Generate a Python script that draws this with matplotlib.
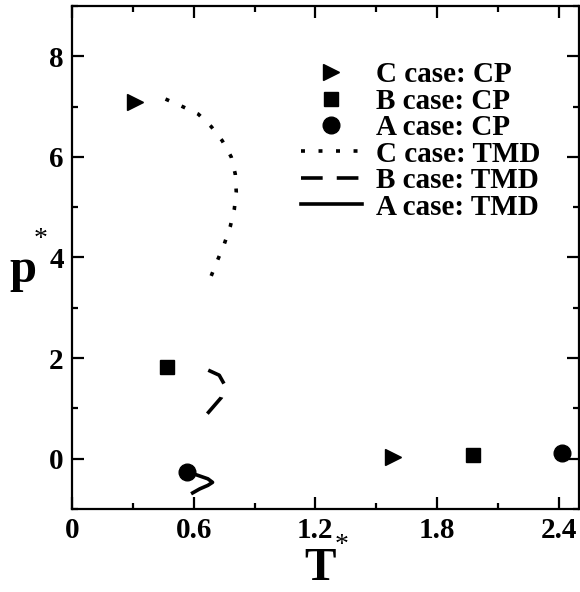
import matplotlib
matplotlib.use("Agg")
import matplotlib.pyplot as plt
from matplotlib.ticker import MultipleLocator

plt.rcParams['font.family'] = ['Liberation Serif', 'DejaVu Serif']
plt.rcParams['font.weight'] = 'bold'

# critical points (T*, p*) for the three cases, low-T and high-T branches
cp_c = ([0.31, 1.585], [7.09, 0.04])
cp_b = ([0.468, 1.976], [1.83, 0.07])
cp_a = ([0.568, 2.416], [-0.26, 0.11])

# temperature of maximum density lines
tmd_c_T = [0.461, 0.540, 0.623, 0.687, 0.741, 0.785, 0.805, 0.810, 0.800, 0.780, 0.751, 0.716, 0.682]
tmd_c_p = [7.15, 7.01, 6.85, 6.60, 6.32, 6.00, 5.66, 5.30, 4.95, 4.61, 4.27, 3.93, 3.59]

tmd_b_T = [0.672, 0.726, 0.751, 0.745, 0.737, 0.664]
tmd_b_p = [1.76, 1.66, 1.48, 1.33, 1.22, 0.88]

tmd_a_T = [0.568, 0.62, 0.67, 0.693, 0.67, 0.63, 0.595]
tmd_a_p = [-0.26, -0.33, -0.40, -0.47, -0.53, -0.60, -0.68]

W, H = 580, 592
fig = plt.figure(figsize=(W / 100, H / 100), dpi=100)
ax = fig.add_axes([72 / W, 1 - 509 / H, (579 - 72) / W, (509 - 6) / H])

lw = 2.6
h1, = ax.plot(cp_c[0], cp_c[1], ls='none', marker='>', ms=12, color='k', label='C case: CP')
h2, = ax.plot(cp_b[0], cp_b[1], ls='none', marker='s', ms=10, color='k', label='B case: CP')
h3, = ax.plot(cp_a[0], cp_a[1], ls='none', marker='o', ms=12, color='k', label='A case: CP')
h4, = ax.plot(tmd_c_T, tmd_c_p, color='k', lw=lw, dashes=(1.1, 3.75), label='C case: TMD')
h5, = ax.plot(tmd_b_T, tmd_b_p, color='k', lw=lw, dashes=(6.0, 3.9), label='B case: TMD')
h6, = ax.plot(tmd_a_T, tmd_a_p, color='k', lw=lw, label='A case: TMD')

ax.set_xlim(0, 2.5)
ax.set_ylim(-1, 9)
ax.xaxis.set_minor_locator(MultipleLocator(0.3))
ax.yaxis.set_minor_locator(MultipleLocator(1))
ax.set_xticks([0, 0.6, 1.2, 1.8, 2.4])
ax.set_xticklabels(['0', '0.6', '1.2', '1.8', '2.4'])
ax.set_yticks([0, 2, 4, 6, 8])
ax.tick_params(which='both', direction='in', top=True, right=True, width=1.6)
ax.tick_params(which='major', length=8.5, labelsize=21, pad=6)
ax.tick_params(which='minor', length=4.5)
for s in ax.spines.values():
    s.set_linewidth(1.6)

leg = ax.legend(handles=[h1, h2, h3, h4, h5, h6], loc='upper left',
                bbox_to_anchor=(0.429, 0.913), frameon=False, fontsize=21,
                handlelength=2.07, handletextpad=0.5, labelspacing=-0.02,
                borderaxespad=0, numpoints=1)

# axis labels with superscript stars
fig.text(320 / W, 1 - 569 / H, 'T', fontsize=34, ha='center', va='center')
fig.text(342 / W, 1 - 545 / H, '*', fontsize=20, fontweight='normal', ha='center', va='center')
fig.text(23 / W, 1 - 270 / H, 'p', fontsize=35, ha='center', va='center')
fig.text(41 / W, 1 - 239 / H, '*', fontsize=20, fontweight='normal', ha='center', va='center')

fig.savefig('out.png', dpi=100)
